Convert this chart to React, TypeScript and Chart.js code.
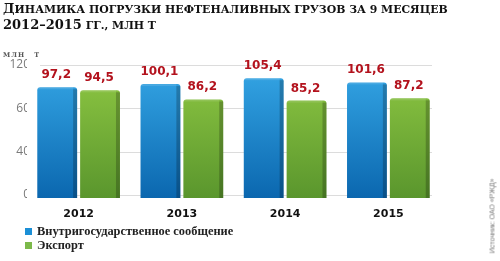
import React, { useEffect, useRef } from "react";
import { Chart, registerables } from "chart.js";

Chart.register(...registerables);

const years = ["2012", "2013", "2014", "2015"];
const domestic = [97.2, 100.1, 105.4, 101.6];
const exportVals = [94.5, 86.2, 85.2, 87.2];
const seriesNames = ["Внутригосударственное сообщение", "Экспорт"];
const yTickValues = [0, 39.1, 78.2, 117.3];
const yTickLabels = ["0", "40", "60", "120"];
const titleLine1Cap = "Д";
const titleLine1Rest = "инамика погрузки нефтеналивных грузов за 9 месяцев";
const titleLine2Num = "2012–2015";
const titleLine2Rest = " гг., млн т";
const unitLabel = "млн т";
const sourceText = "Источник: ОАО «РЖД»";

const BLUE_TOP = "#35a7e6";
const BLUE_BOTTOM = "#0b67af";
const GREEN_TOP = "#8fc843";
const GREEN_BOTTOM = "#5a962d";

function grad(top: string, bottom: string) {
  return (c: any) => {
    const chart = c.chart;
    const area = chart.chartArea;
    if (!area) return bottom;
    const g = chart.ctx.createLinearGradient(0, area.top, 0, area.bottom);
    g.addColorStop(0, top);
    g.addColorStop(1, bottom);
    return g;
  };
}

const gridPlugin = {
  id: "customGrid",
  beforeDatasetsDraw(chart: any) {
    const { ctx, chartArea, scales } = chart;
    const ys = scales.y;
    ctx.save();
    ctx.strokeStyle = "#dcdcdc";
    ctx.lineWidth = 1;
    ys.ticks.forEach((t: any) => {
      const py = Math.round(ys.getPixelForValue(t.value)) + 0.5;
      ctx.beginPath();
      ctx.moveTo(chartArea.left + 13, py);
      ctx.lineTo(chartArea.right - 8, py);
      ctx.stroke();
    });
    ctx.restore();
  },
};

const barDecorPlugin = {
  id: "barDecor",
  afterDatasetsDraw(chart: any) {
    const { ctx } = chart;
    ctx.save();
    chart.data.datasets.forEach((ds: any, di: number) => {
      const meta = chart.getDatasetMeta(di);
      meta.data.forEach((el: any, i: number) => {
        const right = el.x + el.width / 2;
        const top = el.y;
        const bottom = el.base;
        ctx.fillStyle = "rgba(0,0,0,0.22)";
        ctx.fillRect(right - 4, top + 2, 4, bottom - top - 2);
        ctx.fillStyle = "rgba(255,255,255,0.12)";
        ctx.fillRect(el.x - el.width / 2, top, el.width - 4, 2);
        const v = ds.data[i];
        ctx.fillStyle = "#b3121d";
        ctx.font = "bold 12px 'DejaVu Sans'";
        ctx.textAlign = "center";
        ctx.textBaseline = "alphabetic";
        ctx.fillText(v.toFixed(1).replace(".", ","), el.x - 1, top - 9);
      });
    });
    ctx.restore();
  },
};

const titleBase: React.CSSProperties = {
  fontFamily: "'DejaVu Serif'",
  fontWeight: "bold",
  color: "#111",
};
const smallCaps: React.CSSProperties = {
  textTransform: "uppercase",
  fontSize: 10.9,
};

export default function App() {
  const ref = useRef<HTMLCanvasElement | null>(null);

  useEffect(() => {
    if (!ref.current) return;
    const chart = new Chart(ref.current, {
      type: "bar",
      data: {
        labels: years,
        datasets: [
          {
            label: seriesNames[0],
            data: domestic,
            backgroundColor: grad(BLUE_TOP, BLUE_BOTTOM),
            borderRadius: { topLeft: 3, topRight: 3 },
            borderSkipped: "bottom",
            base: -2.7,
            categoryPercentage: 0.83,
            barPercentage: 0.93,
          } as any,
          {
            label: seriesNames[1],
            data: exportVals,
            backgroundColor: grad(GREEN_TOP, GREEN_BOTTOM),
            borderRadius: { topLeft: 3, topRight: 3 },
            borderSkipped: "bottom",
            base: -2.7,
            categoryPercentage: 0.83,
            barPercentage: 0.93,
          } as any,
        ],
      },
      options: {
        responsive: false,
        animation: false,
        layout: { padding: { top: 65, right: 60, bottom: 0, left: 0 } },
        plugins: {
          legend: { display: false },
          title: { display: false },
          tooltip: { enabled: false },
        },
        scales: {
          x: {
            grid: { display: false, drawTicks: false },
            border: { display: false },
            ticks: {
              padding: 10,
              color: "#111",
              font: { family: "'DejaVu Sans'", weight: "bold", size: 11 },
            },
            afterFit: (s: any) => {
              s.height = 63;
            },
          },
          y: {
            min: -2.7,
            max: 117.3,
            grid: { display: false, drawTicks: false },
            border: { display: false },
            afterBuildTicks: (s: any) => {
              s.ticks = yTickValues.map((v) => ({ value: v }));
            },
            afterFit: (s: any) => {
              s.width = 27;
            },
            ticks: {
              padding: -3,
              color: "#7a7a7a",
              font: { family: "'Open Sans'", size: 12 },
              callback: (_v: any, i: number) => yTickLabels[i],
            },
          },
        },
      },
      plugins: [gridPlugin, barDecorPlugin],
    });
    return () => chart.destroy();
  }, []);

  return (
    <div style={{ position: "fixed", left: 0, top: 0, width: 500, height: 261, background: "#fff", overflow: "hidden" }}>
      <canvas ref={ref} width={500} height={261} style={{ position: "absolute", left: 0, top: 0 }} />
      <div
        style={{
          position: "absolute",
          left: 3,
          top: 1,
          fontSize: 13,
          lineHeight: "15px",
          whiteSpace: "nowrap",
          ...titleBase,
        }}
      >
        <div>
          {titleLine1Cap}
          <span style={smallCaps}>{titleLine1Rest}</span>
        </div>
        <div>
          {titleLine2Num}
          <span style={smallCaps}>{titleLine2Rest}</span>
        </div>
      </div>
      <div
        style={{
          position: "absolute",
          left: 3,
          top: 51,
          fontFamily: "'DejaVu Serif'",
          fontWeight: "bold",
          textTransform: "uppercase",
          fontSize: 6.5,
          letterSpacing: 1,
          wordSpacing: 6,
          color: "#555",
          whiteSpace: "nowrap",
        }}
      >
        {unitLabel}
      </div>
      {seriesNames.map((name, i) => (
        <div
          key={name}
          style={{
            position: "absolute",
            left: 25,
            top: 225 + i * 13.5,
            height: 13,
            display: "flex",
            alignItems: "center",
            whiteSpace: "nowrap",
          }}
        >
          <span
            style={{
              display: "inline-block",
              width: 7,
              height: 7,
              background: i === 0 ? "#1b8fd6" : "#7cb94a",
              marginRight: 5,
            }}
          />
          <span
            style={{
              fontFamily: "'Liberation Serif'",
              fontWeight: "bold",
              fontSize: 12.4,
              color: "#222",
            }}
          >
            {name}
          </span>
        </div>
      ))}
      <div
        style={{
          position: "absolute",
          left: 492,
          top: 216,
          transform: "translate(-50%, -50%) rotate(-90deg)",
          fontFamily: "'Liberation Sans'",
          fontSize: 7,
          color: "#777",
          whiteSpace: "nowrap",
        }}
      >
        {sourceText}
      </div>
    </div>
  );
}
